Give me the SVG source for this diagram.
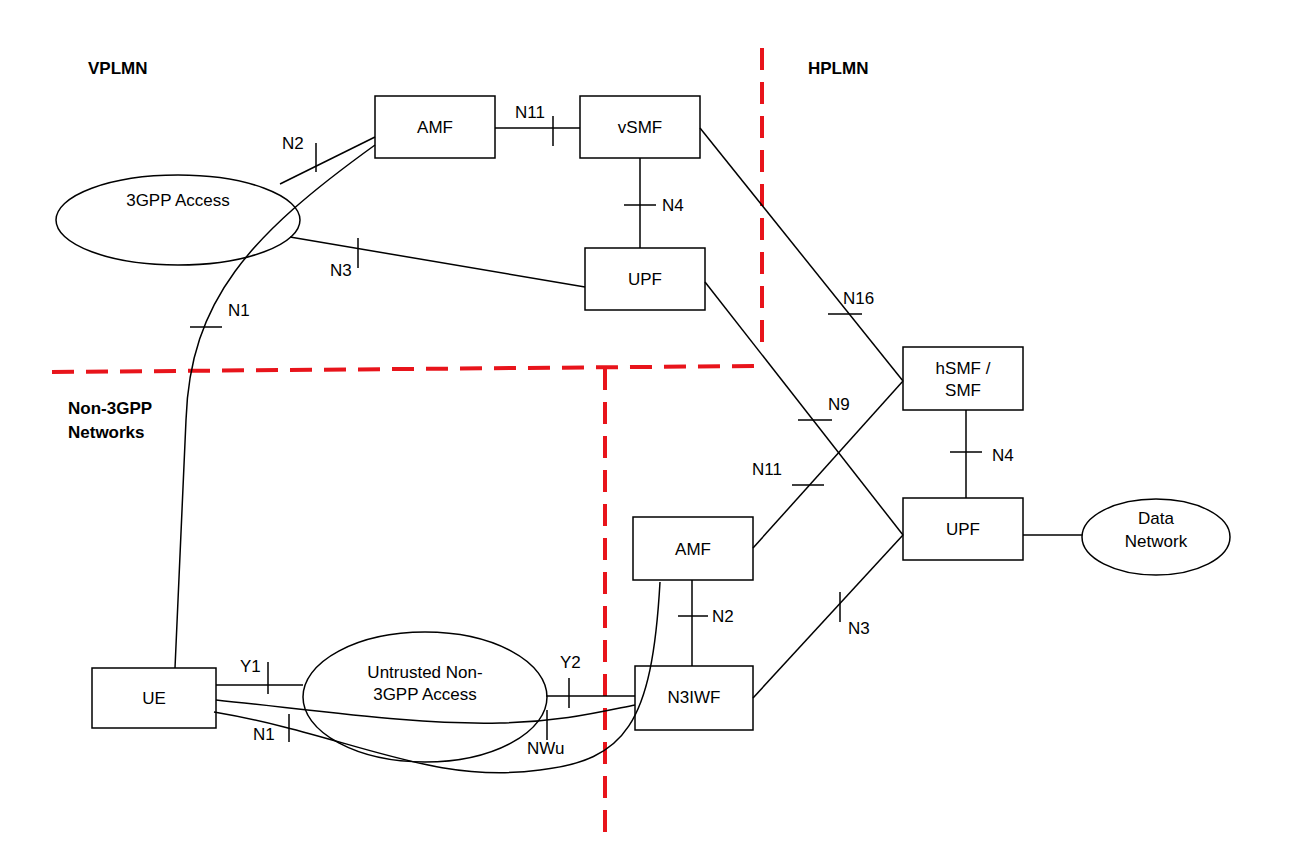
<svg xmlns="http://www.w3.org/2000/svg" width="1296" height="848" viewBox="0 0 1296 848">
<style>
.n{fill:none;stroke:#000;stroke-width:1.5}
.c{fill:none;stroke:#000;stroke-width:1.5}
.r{stroke:#e8141b;stroke-width:4;stroke-dasharray:22,12;fill:none}
text{font-family:"Liberation Sans",Arial,sans-serif;font-size:17px;fill:#000}
.b{font-weight:bold}
.m{text-anchor:middle}
</style>
<rect width="1296" height="848" fill="#fff"/>
<g id="boundaries">
<line class="r" x1="762" y1="48" x2="762" y2="352"/>
<line class="r" x1="52" y1="372" x2="757" y2="366"/>
<line class="r" x1="605" y1="368" x2="605" y2="832"/>
</g>
<g id="connectors">
<line class="c" x1="280" y1="184" x2="375" y2="137"/><line class="c" x1="316" y1="143" x2="316" y2="172"/>
<path class="c" d="M375,145 C250,235 190,300 186,420 L175,668"/><line class="c" x1="190" y1="327" x2="222" y2="327"/>
<line class="c" x1="495" y1="128" x2="580" y2="128"/><line class="c" x1="553" y1="116" x2="553" y2="146"/>
<line class="c" x1="640" y1="158" x2="640" y2="248"/><line class="c" x1="624" y1="205" x2="656" y2="205"/>
<line class="c" x1="290" y1="237" x2="585" y2="287"/><line class="c" x1="358" y1="238" x2="358" y2="268"/>
<line class="c" x1="700" y1="128" x2="903" y2="381"/><line class="c" x1="828" y1="314" x2="862" y2="314"/>
<line class="c" x1="705" y1="282" x2="903" y2="535"/><line class="c" x1="798" y1="420" x2="832" y2="420"/>
<line class="c" x1="753" y1="548" x2="903" y2="381"/><line class="c" x1="792" y1="485" x2="824" y2="485"/>
<line class="c" x1="1023" y1="535" x2="1082" y2="535"/>
<line class="c" x1="966" y1="410" x2="966" y2="498"/><line class="c" x1="950" y1="452" x2="982" y2="452"/>
<line class="c" x1="692" y1="580" x2="692" y2="666"/><line class="c" x1="678" y1="616" x2="708" y2="616"/>
<line class="c" x1="753" y1="698" x2="903" y2="535"/><line class="c" x1="840" y1="592" x2="840" y2="622"/>
<line class="c" x1="216" y1="685" x2="303" y2="685"/><line class="c" x1="268" y1="662" x2="268" y2="694"/>
<line class="c" x1="546" y1="696" x2="635" y2="696"/><line class="c" x1="569" y1="678" x2="569" y2="708"/>
<path class="c" d="M216,700 C330,712 420,725 500,723 C560,722 600,712 635,705"/><line class="c" x1="547" y1="710" x2="547" y2="740"/>
<path class="c" d="M214,712 C350,735 430,785 540,770 C625,760 652,725 660,582"/><line class="c" x1="289" y1="714" x2="289" y2="742"/>
</g>
<g id="AMF1"><rect class="n" x="375" y="96" width="120" height="62"/><text class="m" x="435" y="133">AMF</text></g>
<g id="vSMF"><rect class="n" x="580" y="96" width="120" height="62"/><text class="m" x="640" y="133">vSMF</text></g>
<g id="Access3GPP"><ellipse class="n" cx="178" cy="220" rx="122" ry="45"/><text class="m" x="178" y="206">3GPP Access</text></g>
<g id="UPF1"><rect class="n" x="585" y="248" width="120" height="62"/><text class="m" x="645" y="285">UPF</text></g>
<g id="hSMF"><rect class="n" x="903" y="347" width="120" height="63"/><text class="m" x="963" y="374">hSMF /</text><text class="m" x="963" y="396">SMF</text></g>
<g id="UPF2"><rect class="n" x="903" y="498" width="120" height="62"/><text class="m" x="963" y="535">UPF</text></g>
<g id="DN"><ellipse class="n" cx="1156" cy="537" rx="74" ry="38"/><text class="m" x="1156" y="524">Data</text><text class="m" x="1156" y="547">Network</text></g>
<g id="AMF2"><rect class="n" x="633" y="517" width="120" height="63"/><text class="m" x="693" y="555">AMF</text></g>
<g id="N3IWF"><rect class="n" x="635" y="666" width="118" height="64"/><text class="m" x="694" y="703">N3IWF</text></g>
<g id="UE"><rect class="n" x="92" y="668" width="124" height="60"/><text class="m" x="154" y="704">UE</text></g>
<g id="Untrusted"><ellipse class="c" cx="425" cy="697" rx="122" ry="65"/><text class="m" x="425" y="678">Untrusted Non-</text><text class="m" x="425" y="700">3GPP Access</text></g>
<g id="labels">
<text class="b" x="88" y="74">VPLMN</text><text class="b" x="808" y="74">HPLMN</text>
<text class="b" x="68" y="414">Non-3GPP</text><text class="b" x="68" y="438">Networks</text>
<text x="282" y="149">N2</text><text x="228" y="316">N1</text><text x="515" y="118">N11</text>
<text x="662" y="211">N4</text><text x="330" y="276">N3</text><text x="843" y="304">N16</text>
<text x="828" y="410">N9</text><text x="752" y="475">N11</text><text x="992" y="461">N4</text>
<text x="712" y="622">N2</text><text x="848" y="634">N3</text><text x="240" y="672">Y1</text>
<text x="560" y="668">Y2</text><text x="527" y="754">NWu</text><text x="253" y="740">N1</text>
</g>
</svg>
